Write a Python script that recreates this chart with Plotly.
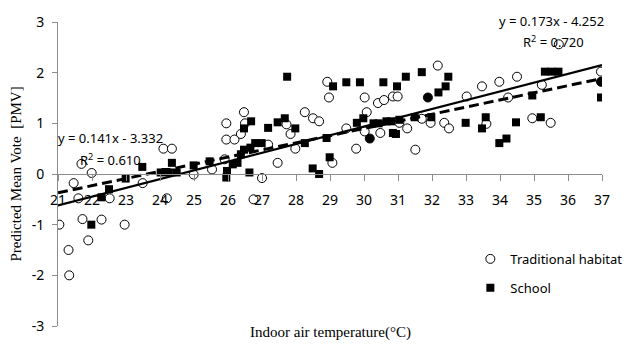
import plotly.graph_objects as go

# Traditional habitat (open circles)
trad_x = [21.04, 21.31, 21.33, 21.46, 21.60, 21.69, 21.72, 21.89, 21.99, 22.28,
          22.52, 22.96, 23.49, 24.10, 24.35, 24.20, 24.99, 25.53, 25.90, 25.95,
          25.95, 26.19, 26.38, 26.47, 26.50, 26.75, 27.00, 27.18, 27.46, 27.72,
          27.84, 27.98, 28.26, 28.50, 28.68, 28.92, 28.97, 29.07, 29.48, 29.77,
          30.02, 30.08, 30.02, 30.41, 30.59, 30.85, 30.99, 30.48, 31.04, 31.27,
          31.51, 31.70, 31.96, 32.17, 32.36, 32.50, 33.02, 33.47, 33.60, 33.98,
          34.24, 34.50, 34.95, 35.23, 35.49, 35.73, 36.97,
          30.17, 31.88, 36.97]
trad_y = [-1.00, -1.50, -2.00, -0.18, -0.48, 0.20, -0.89, -1.31, 0.02, -0.90,
          -0.48, -1.00, -0.18, 0.50, 0.50, -0.48, -0.01, 0.09, 0.29, 1.00,
          0.68, 0.68, 0.79, 1.22, 1.00, -0.50, -0.08, 0.58, 0.22, 0.98,
          0.79, 0.50, 1.22, 1.10, 1.04, 1.82, 1.51, 0.22, 0.90, 0.50,
          1.51, 1.22, 0.84, 1.40, 1.46, 1.53, 1.53, 0.81, 1.01, 0.90,
          0.48, 1.09, 1.01, 2.14, 1.01, 0.90, 1.53, 1.73, 0.99, 1.82,
          1.51, 1.92, 1.10, 1.76, 1.01, 2.56, 2.02,
          0.70, 1.51, 1.82]
trad_filled = [False] * 67 + [True, True, True]

# School (filled squares)
school_x = [21.98, 22.28, 22.50, 22.99, 23.48, 24.02, 24.16, 24.35, 24.26, 24.49,
            24.99, 25.46, 25.95, 25.97, 26.14, 26.28, 26.38, 26.47, 26.63, 26.66,
            26.80, 26.99, 26.47, 26.68, 27.18, 27.46, 27.67, 27.74, 27.98, 28.26,
            28.49, 28.68, 28.90, 28.99, 29.09, 29.48, 29.79, 29.88, 29.98, 30.28,
            30.43, 30.57, 30.66, 30.80, 30.85, 30.94, 30.97, 31.04, 31.23, 31.49,
            31.70, 31.98, 32.19, 32.40, 32.48, 32.99, 33.47, 33.58, 33.98, 34.19,
            34.47, 34.95, 35.20, 35.32, 35.52, 35.72, 36.97]
school_y = [-1.00, -0.46, -0.30, -0.09, 0.14, 0.03, 0.04, 0.22, 0.03, 0.03,
            0.17, 0.25, -0.07, 0.06, 0.19, 0.22, 0.39, 0.48, 0.03, 0.52,
            0.61, 0.61, 0.90, 1.04, 0.91, 1.02, 1.10, 1.92, 0.90, 0.61,
            0.11, 0.00, 0.71, 0.33, 1.73, 1.81, 1.01, 1.81, 1.10, 1.00,
            1.00, 1.81, 1.04, 1.04, 0.81, 0.79, 1.73, 1.07, 1.92, 1.12,
            2.01, 1.12, 1.61, 1.73, 1.92, 1.01, 0.90, 1.12, 0.61, 0.70,
            1.02, 1.55, 1.12, 2.02, 2.02, 2.02, 1.51]

# Trendline coefficients as printed on the chart
trad_slope, trad_intercept = 0.173, -4.252
school_slope, school_intercept = 0.141, -3.332
trend_x = [21, 37]

x_ticks = list(range(21, 38))
x_ticktext = [str(v) for v in x_ticks]
y_ticks = [-3, -2, -1, 0, 1, 2, 3]
y_ticktext = ["-3", "-2", "-1", "0", "1", "2", "3"]

AX = "#8c8c8c"
SANS = "Noto Sans"
SERIF = "Liberation Serif"

fig = go.Figure()

fig.add_trace(go.Scatter(
    x=trad_x, y=trad_y, mode="markers", name="Traditional habitat",
    legendgroup="a",
    marker=dict(symbol="circle", size=9,
                color=["black" if f else "white" for f in trad_filled],
                line=dict(color="black", width=1)),
))
fig.add_trace(go.Scatter(
    x=school_x, y=school_y, mode="markers", name="School",
    legendgroup="b",
    marker=dict(symbol="square", size=8, color="black",
                line=dict(color="black", width=0)),
))
fig.add_trace(go.Scatter(
    x=trend_x, y=[trad_slope * v + trad_intercept for v in trend_x],
    mode="lines", showlegend=False, hoverinfo="skip",
    line=dict(color="black", width=2.2),
))
fig.add_trace(go.Scatter(
    x=trend_x, y=[school_slope * v + school_intercept for v in trend_x],
    mode="lines", showlegend=False, hoverinfo="skip",
    line=dict(color="black", width=3, dash="10px,5px"),
))

fig.update_layout(
    width=639, height=348,
    margin=dict(l=58, r=15, t=20, b=22),
    paper_bgcolor="white", plot_bgcolor="white",
    font=dict(family=SANS, size=14, color="black"),
    showlegend=True,
    legend=dict(x=0.758, y=0.27, xanchor="left", yanchor="top",
                bgcolor="rgba(0,0,0,0)", font=dict(family=SANS, size=13),
                traceorder="grouped", tracegroupgap=9, itemwidth=30),
    xaxis=dict(range=[21, 37], tickvals=x_ticks, ticktext=x_ticktext,
               showgrid=False, zeroline=False,
               showline=True, linecolor=AX, linewidth=1,
               ticks="outside", ticklen=6, tickcolor=AX,
               anchor="free", position=0.5, ticklabelstandoff=7,
               tickfont=dict(family=SANS, size=14)),
    yaxis=dict(range=[-3, 3], tickvals=y_ticks, ticktext=y_ticktext,
               showgrid=False, zeroline=False,
               showline=True, linecolor=AX, linewidth=1,
               ticks="outside", ticklen=5, tickcolor=AX,
               ticklabelstandoff=5,
               tickfont=dict(family=SANS, size=14)),
    annotations=[
        dict(text="Predicted Mean Vote  [PMV]", xref="paper", yref="paper",
             x=-0.078, y=0.5, textangle=-90, showarrow=False,
             xanchor="center", yanchor="middle",
             font=dict(family=SERIF, size=15)),
        dict(text="Indoor air temperature(°C)", xref="paper", yref="paper",
             x=0.5, y=-0.023, showarrow=False, xanchor="center", yanchor="middle",
             font=dict(family=SERIF, size=15)),
        dict(text="y = 0.173x - 4.252", xref="paper", yref="paper",
             x=0.908, y=1.003, showarrow=False,
             xanchor="center", yanchor="middle", font=dict(family=SANS, size=13)),
        dict(text="R<sup>2</sup> = 0.720", xref="paper", yref="paper",
             x=0.91, y=0.935, showarrow=False,
             xanchor="center", yanchor="middle", font=dict(family=SANS, size=13)),
        dict(text="y = 0.141x - 3.332", x=22.53, y=0.71, showarrow=False,
             xanchor="center", yanchor="middle", font=dict(family=SANS, size=13)),
        dict(text="R<sup>2</sup> = 0.610", x=22.53, y=0.29, showarrow=False,
             xanchor="center", yanchor="middle", font=dict(family=SANS, size=13)),
    ],
)

fig.write_html("out.html")
